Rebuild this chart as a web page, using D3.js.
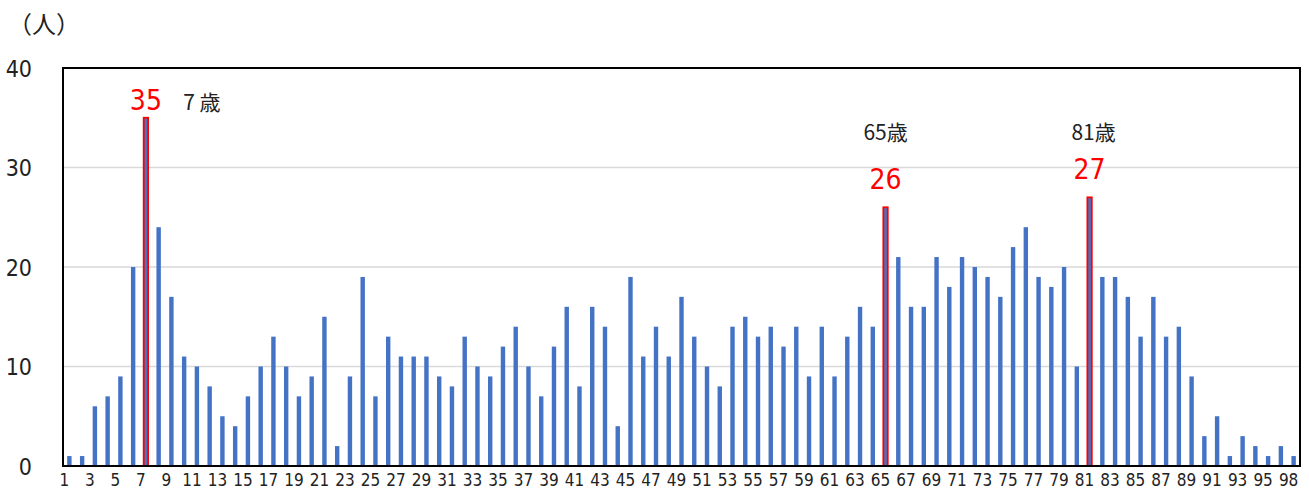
<!DOCTYPE html>
<html>
<head>
<meta charset="utf-8">
<script src="https://cdn.jsdelivr.net/npm/d3@7"></script>
<style>
  html, body { margin: 0; padding: 0; background: #fff; }
  svg { display: block; }
</style>
</head>
<body>
<svg id="chart" width="1309" height="493"></svg>
<script>
// ---- data ----
const ages = [1,2,3,4,5,6,7,8,9,10,11,12,13,14,15,16,17,18,19,20,
  21,22,23,24,25,26,27,28,29,30,31,32,33,34,35,36,37,38,39,40,
  41,42,43,44,45,46,47,48,49,50,51,52,53,54,55,56,57,58,59,60,
  61,62,63,64,65,66,67,68,69,70,71,72,73,74,75,76,77,78,79,80,
  81,82,83,84,85,86,87,88,89,90,91,92,93,94,95,96,98];
const counts = [1,1,6,7,9,20,35,24,17,11,10,8,5,4,7,10,13,10,7,9,
  15,2,9,19,7,13,11,11,11,9,8,13,10,9,12,14,10,7,12,16,
  8,16,14,4,19,11,14,11,17,13,10,8,14,15,13,14,12,14,9,14,
  9,13,16,14,26,21,16,16,21,18,21,20,19,17,22,24,19,18,20,10,
  27,19,19,17,13,17,13,14,9,3,5,1,3,2,1,2,1];
const xTickLabels = [1,3,5,7,9,11,13,15,17,19,21,23,25,27,29,31,33,35,37,39,
  41,43,45,47,49,51,53,55,57,59,61,63,65,67,69,71,73,75,77,79,
  81,83,85,87,89,91,93,95,98];
const yTicks = [0,10,20,30,40];
const highlightAges = [7,65,81];
const highlightAgeText = ["7 歳","65歳","81歳"];
const unitLabel = "（人）";

// ---- layout ----
const svg = d3.select("#chart");
const L = 63, R = 1300, T = 68, B = 466;
const numFont = "'DejaVu Sans Condensed','Liberation Sans Narrow','Noto Sans CJK JP',sans-serif";
const jpFont = "'Noto Sans CJK JP',sans-serif";

const x = d3.scaleBand().domain(ages).range([L, R])
  .paddingInner(0.655).paddingOuter(0.3275);
const y = d3.scaleLinear().domain([0, 40]).range([B, T]);

const data = ages.map((a, i) => ({age: a, v: counts[i]}));

// gridlines
svg.append("g")
  .selectAll("line")
  .data(yTicks.filter(t => t > 0 && t < 40))
  .join("line")
  .attr("x1", L).attr("x2", R)
  .attr("y1", d => y(d)).attr("y2", d => y(d))
  .attr("stroke", "#d9d9d9").attr("stroke-width", 1.5);

// bars
svg.append("g")
  .selectAll("rect")
  .data(data)
  .join("rect")
  .attr("x", d => x(d.age))
  .attr("width", x.bandwidth())
  .attr("y", d => y(d.v))
  .attr("height", d => y(0) - y(d.v))
  .attr("fill", "#4472C4")
  .attr("stroke", d => highlightAges.includes(d.age) ? "#ff0000" : "none")
  .attr("stroke-width", 1.8);

// plot frame
svg.append("rect")
  .attr("x", L).attr("y", T).attr("width", R - L).attr("height", B - T)
  .attr("fill", "none").attr("stroke", "#000").attr("stroke-width", 2);

// y axis
const yAxis = d3.axisLeft(y).tickValues(yTicks).tickSize(0).tickPadding(31);
const gy = svg.append("g").attr("transform", `translate(${L},0)`).call(yAxis);
gy.select(".domain").remove();
gy.selectAll("text")
  .attr("font-family", numFont).attr("font-size", 23).attr("fill", "#222")
  .attr("dy", "0.35em");

// x axis
const xAxis = d3.axisBottom(x).tickValues(xTickLabels).tickSize(0).tickPadding(8);
const gx = svg.append("g").attr("transform", `translate(0,${B})`).call(xAxis);
gx.select(".domain").remove();
gx.selectAll("text")
  .attr("font-family", numFont).attr("font-size", 17).attr("fill", "#222")
  .attr("dx", -5);

// unit label
svg.append("text")
  .attr("x", 8).attr("y", 33)
  .attr("font-family", jpFont).attr("font-size", 24).attr("fill", "#222")
  .text(unitLabel);

// annotations
const cx = a => x(a) + x.bandwidth() / 2;
const valOf = a => counts[ages.indexOf(a)];
// red value labels
const redOffsets = [8, 18, 18];
svg.append("g").selectAll("text")
  .data(highlightAges)
  .join("text")
  .attr("x", d => cx(d))
  .attr("y", (d, i) => y(valOf(d)) - redOffsets[i])
  .attr("text-anchor", "middle")
  .attr("font-family", numFont).attr("font-size", 28).attr("fill", "#ff0000")
  .text(d => valOf(d));
// age labels
const ageLabelDx = [56, 0, 4];
const ageLabelY = [110, 140, 140];
svg.append("g").selectAll("text")
  .data(highlightAges)
  .join("text")
  .attr("x", (d, i) => cx(d) + ageLabelDx[i])
  .attr("y", (d, i) => ageLabelY[i])
  .attr("text-anchor", "middle")
  .attr("font-family", jpFont).attr("font-size", 21).attr("fill", "#222")
  .text((d, i) => highlightAgeText[i]);
</script>
</body>
</html>
